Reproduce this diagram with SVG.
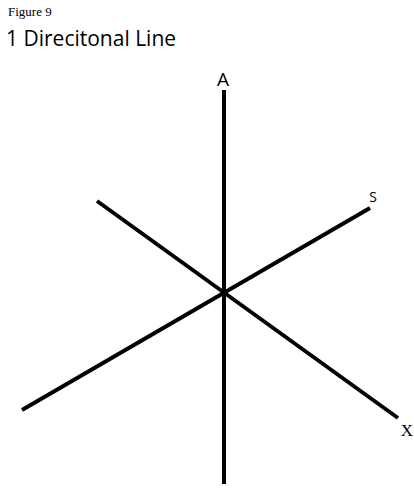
<svg xmlns="http://www.w3.org/2000/svg" width="414" height="493" viewBox="0 0 414 493">
<style>
.ln{stroke:#000;stroke-width:4;stroke-linecap:butt;fill:none}
.sans{font-family:"Open Sans","Noto Sans",sans-serif;fill:#000}
.serif{font-family:"Liberation Serif","Times New Roman",serif;fill:#000}
</style>
<rect width="414" height="493" fill="#fff"/>
<text class="serif" x="8" y="16" font-size="13">Figure 9</text>
<text class="sans" x="6" y="46" font-size="21">1 Direcitonal Line</text>
<g id="connectors">
<line class="ln" x1="224" y1="90" x2="224" y2="484"/>
<line class="ln" x1="22" y1="410" x2="370" y2="208"/>
<line class="ln" x1="97" y1="201" x2="398" y2="418"/>
</g>
<g id="A"><text class="sans" x="223" y="86" font-size="19" text-anchor="middle">A</text></g>
<g id="S"><text class="sans" x="373" y="202" font-size="14" text-anchor="middle">S</text></g>
<g id="X"><text class="serif" x="407" y="436" font-size="17" text-anchor="middle">X</text></g>
</svg>
